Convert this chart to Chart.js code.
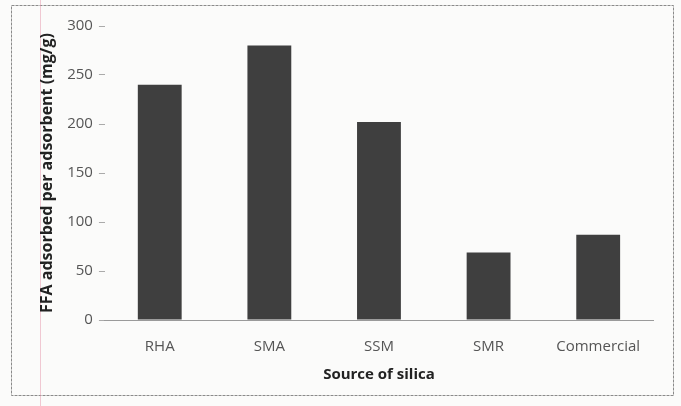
<!DOCTYPE html>
<html>
<head>
<meta charset="utf-8">
<script src="https://cdn.jsdelivr.net/npm/chart.js@4"></script>
<style>
  html, body { margin: 0; padding: 0; background: #fbfbfa; }
  #wrap { width: 681px; height: 406px; position: relative; }
</style>
</head>
<body>
<div id="wrap"><canvas id="chart"></canvas></div>
<script>
// -------------------------
// DATA
// -------------------------
const sources = ["RHA", "SMA", "SSM", "SMR", "Commercial"];
const ffaAdsorbed = [240, 280, 202, 69, 87];
const yTicks = [0, 50, 100, 150, 200, 250, 300];

// -------------------------
// Paper background, frame, margin line
// -------------------------
const paperPlugin = {
  id: "paper",
  beforeDraw(chart) {
    const ctx = chart.ctx;
    ctx.save();
    ctx.fillStyle = "#fbfbfa";
    ctx.fillRect(0, 0, chart.width, chart.height);
    // outer frame of the pasted chart
    ctx.strokeStyle = "#8a8a8a";
    ctx.lineWidth = 1;
    ctx.setLineDash([3, 1]);
    ctx.strokeRect(11.5, 5.5, 662, 390);
    ctx.setLineDash([]);
    // faint pink margin line from the scan
    ctx.strokeStyle = "rgba(230,150,170,0.5)";
    ctx.beginPath();
    ctx.moveTo(40.5, 0);
    ctx.lineTo(40.5, chart.height);
    ctx.stroke();
    ctx.restore();
  }
};

const font = "'Open Sans', 'Liberation Sans', sans-serif";

new Chart(document.getElementById("chart"), {
  type: "bar",
  data: {
    labels: sources,
    datasets: [{
      data: ffaAdsorbed,
      backgroundColor: "#3f3f3f",
      barPercentage: 0.4,
      categoryPercentage: 1
    }]
  },
  options: {
    responsive: true,
    maintainAspectRatio: false,
    animation: false,
    layout: { padding: { left: 34, right: 28, top: 26, bottom: 22 } },
    plugins: { legend: { display: false }, tooltip: { enabled: false } },
    scales: {
      x: {
        grid: { display: false },
        border: { display: true, color: "#9a9a9a", width: 1 },
        ticks: { color: "#555", font: { family: font, size: 15 }, padding: 10 },
        title: {
          display: true, text: "Source of silica", color: "#222",
          font: { family: font, size: 15, weight: "bold" }, padding: 0
        }
      },
      y: {
        min: 0, max: 300,
        afterBuildTicks: axis => { axis.ticks = yTicks.map(v => ({ value: v })); },
        grid: { drawOnChartArea: false, drawTicks: true, tickLength: 6, color: "#aaa" },
        border: { display: false },
        ticks: { color: "#555", font: { family: font, size: 15 }, padding: 6 },
        title: {
          display: true, text: "FFA adsorbed per adsorbent (mg/g)", color: "#222",
          font: { family: font, size: 16, weight: "bold" }, padding: { bottom: 4 }
        }
      }
    }
  },
  plugins: [paperPlugin]
});
</script>
</body>
</html>
